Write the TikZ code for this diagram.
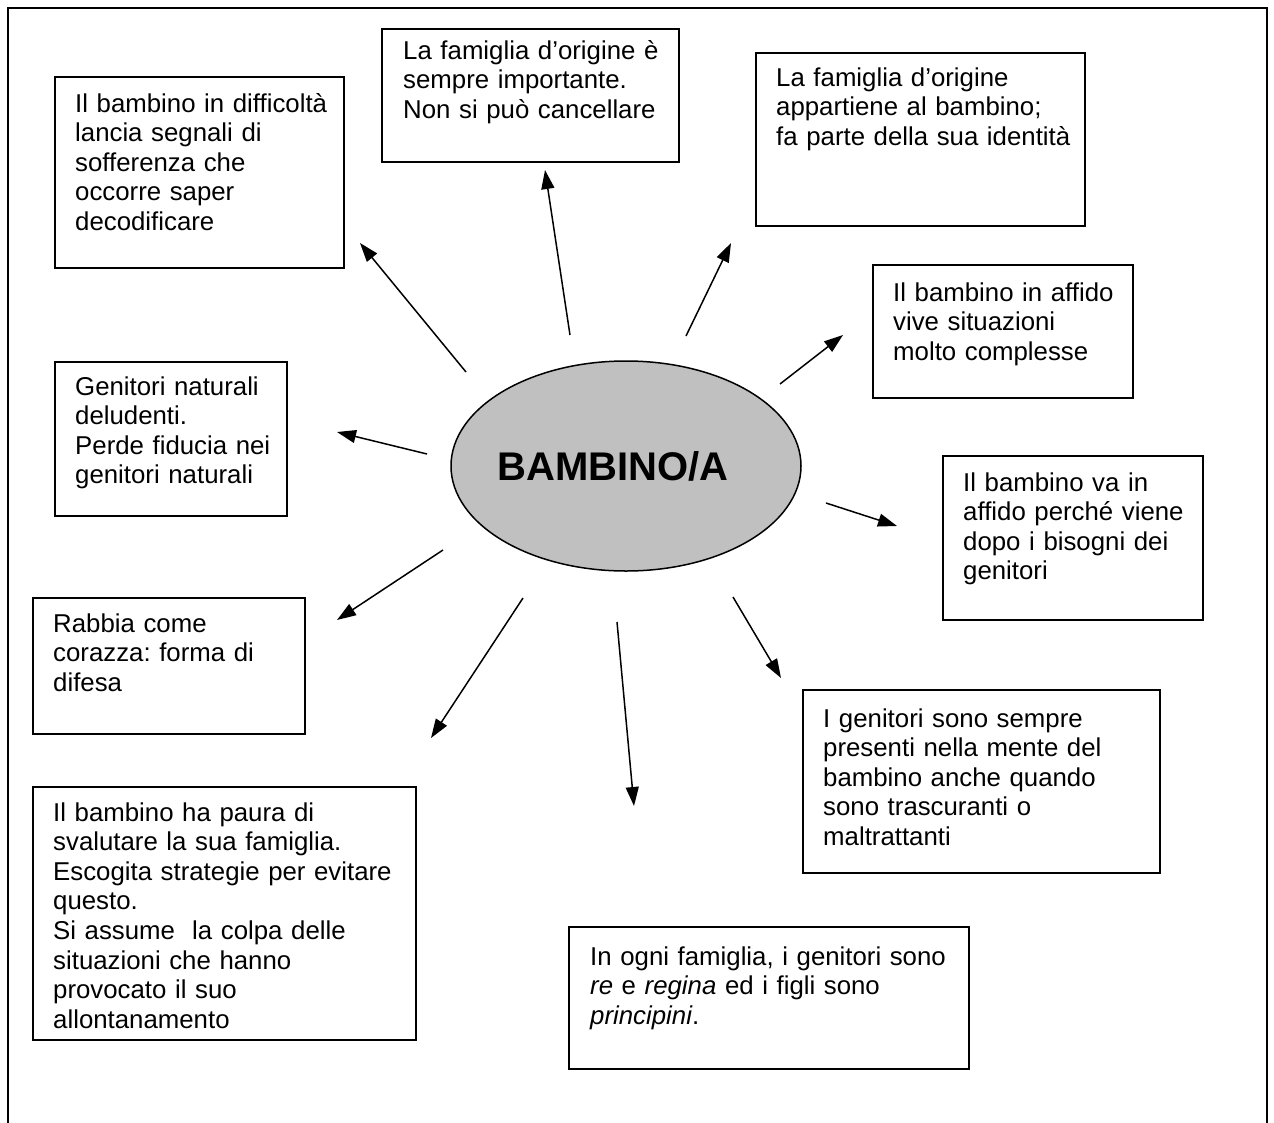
\documentclass[tikz,border=0pt]{standalone}
\usepackage{fontspec}
\setmainfont{Liberation Sans}
\usetikzlibrary{arrows.meta,shapes.geometric}
\definecolor{ellgray}{RGB}{192,192,192}
\frenchspacing
\begin{document}
\begin{tikzpicture}[x=1pt,y=-1pt,
  box/.style={draw, line width=1.6pt, anchor=north west, inner sep=0pt, outer sep=0pt},
  txt/.style={anchor=base west, inner sep=0pt, text width=420pt, align=left, font=\fontsize{25.8}{29.6}\selectfont},
  arr/.style={line width=1.5pt, -{Triangle[length=19pt,width=13pt]}}]
\useasboundingbox (0,0) rectangle (1274,1122);
\fill[white] (0,0) rectangle (1274,1122);
% outer frame
\coordinate (fbl) at (8,1130);
\coordinate (ftl) at (8,8);
\coordinate (ftr) at (1267,8);
\coordinate (fbr) at (1267,1130);
\draw[line width=1.8pt] (fbl) -- (ftl) -- (ftr) -- (fbr);

% boxes
\node[box, minimum width=289pt, minimum height=191pt] (b1) at (55,77) {};
\node[box, minimum width=297pt, minimum height=133pt] (b2) at (382,29) {};
\node[box, minimum width=329pt, minimum height=173pt] (b3) at (756,53) {};
\node[box, minimum width=260pt, minimum height=133pt] (b4) at (873,265) {};
\node[box, minimum width=232pt, minimum height=154pt] (b5) at (55,362) {};
\node[box, minimum width=260pt, minimum height=164pt] (b6) at (943,456) {};
\node[box, minimum width=272pt, minimum height=136pt] (b7) at (33,598) {};
\node[box, minimum width=357pt, minimum height=183pt] (b8) at (803,690) {};
\node[box, minimum width=383pt, minimum height=253pt] (b9) at (33,787) {};
\node[box, minimum width=400pt, minimum height=142pt] (b10) at (569,927) {};

% texts
\node[txt] (t1) at (75,112) {Il bambino in difficoltà\\lancia segnali di\\sofferenza che\\occorre saper\\decodificare};
\node[txt] (t2) at (403,59) {La famiglia d’origine è\\sempre importante.\\Non si può cancellare};
\node[txt] (t3) at (776,86) {La famiglia d’origine\\appartiene al bambino;\\fa parte della sua identità};
\node[txt] (t4) at (893,301) {Il bambino in affido\\vive situazioni\\molto complesse};
\node[txt] (t5) at (75,395) {Genitori naturali\\deludenti.\\Perde fiducia nei\\genitori naturali};
\node[txt] (t6) at (963,491) {Il bambino va in\\affido perché viene\\dopo i bisogni dei\\genitori};
\node[txt] (t7) at (53,632) {Rabbia come\\corazza: forma di\\difesa};
\node[txt] (t8) at (823,727) {I genitori sono sempre\\presenti nella mente del\\bambino anche quando\\sono trascuranti o\\maltrattanti};
\node[txt] (t9) at (53,821) {Il bambino ha paura di\\svalutare la sua famiglia.\\Escogita strategie per evitare\\questo.\\Si assume~ la colpa delle\\situazioni che hanno\\provocato il suo\\allontanamento};
\node[txt] (t10) at (590,965) {In ogni famiglia, i genitori sono\\\textit{re} e \textit{regina} ed i figli sono\\\textit{principini}.};

% centre
\node[draw, ellipse, line width=1.5pt, fill=ellgray, minimum width=350pt, minimum height=210pt, inner sep=0pt] (c) at (626,466) {};
\node[font=\fontsize{40}{46}\bfseries\selectfont, inner sep=0pt, anchor=base] (ct) at (613,480) {BAMBINO/A};

% arrows
\coordinate (s1) at (466,372);  \coordinate (e1) at (360,243);
\coordinate (s2) at (570,335);  \coordinate (e2) at (545,170);
\coordinate (s3) at (686,336);  \coordinate (e3) at (731,243);
\coordinate (s4) at (780,384);  \coordinate (e4) at (843,335);
\coordinate (s5) at (427,454);  \coordinate (e5) at (337,432);
\coordinate (s6) at (826,503);  \coordinate (e6) at (897,526);
\coordinate (s7) at (443,550);  \coordinate (e7) at (337,620);
\coordinate (s8) at (523,598);  \coordinate (e8) at (431,738);
\coordinate (s9) at (617,622);  \coordinate (e9) at (634,806);
\coordinate (s10) at (733,597); \coordinate (e10) at (781,678);
\foreach \i in {1,...,10} {\draw[arr] (s\i) -- (e\i);}
\end{tikzpicture}
\end{document}
